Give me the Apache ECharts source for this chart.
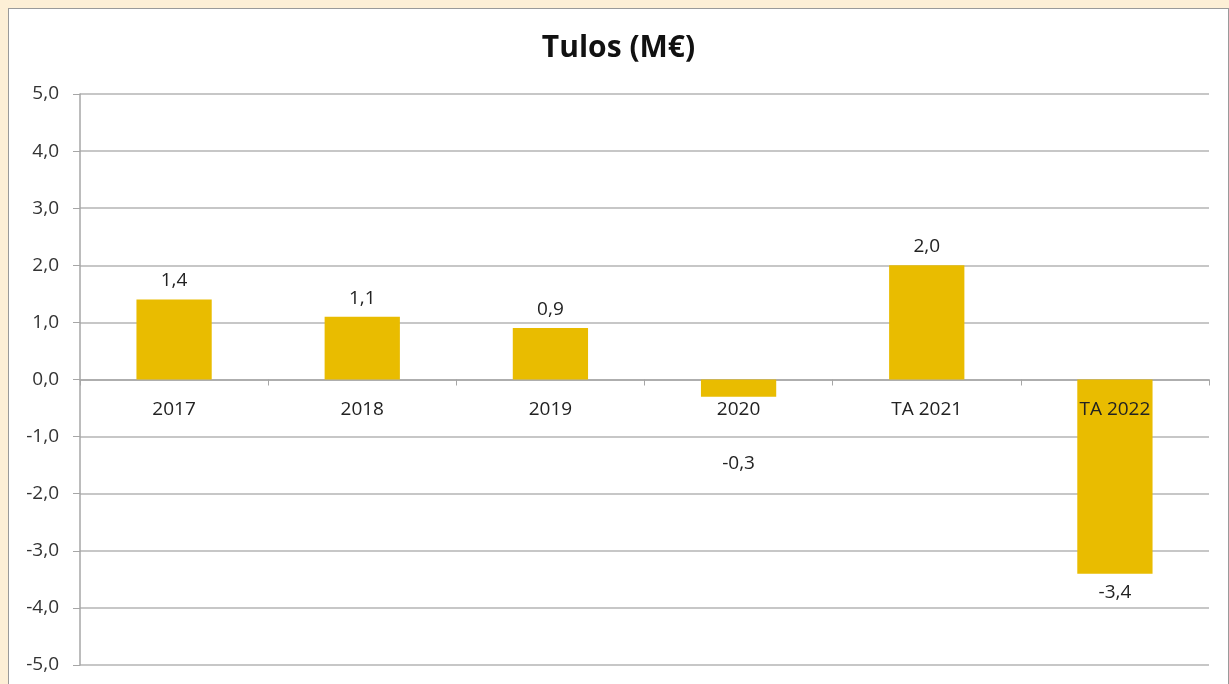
<!DOCTYPE html>
<html>
<head>
<meta charset="utf-8">
<script src="https://cdn.jsdelivr.net/npm/echarts@6/dist/echarts.min.js"></script>
<style>
  html, body { margin: 0; padding: 0; background: #FDEFD6; overflow: hidden; }
  #chart {
    position: absolute; left: 8px; top: 8px; width: 1219px; height: 680px;
    background: #fff; border-left: 1px solid #9a9a9a; border-top: 1px solid #9a9a9a;
    border-right: 1px solid #9a9a9a;
  }
</style>
</head>
<body>
<div id="chart"></div>
<script>
// tuloskehitys
const categories = ['2017', '2018', '2019', '2020', 'TA 2021', 'TA 2022'];
const tulos = [1.4, 1.1, 0.9, -0.3, 2.0, -3.4];
const yTicks = [-5, -4, -3, -2, -1, 0, 1, 2, 3, 4, 5];

const fmt = v => Number(v).toFixed(1).replace('.', ',');
const font = '"Open Sans", sans-serif';

const chart = echarts.init(document.getElementById('chart'));

const barData = tulos.map(function (v, i) {
    const item = { value: v, label: { position: v < 0 ? 'bottom' : 'top' } };
    // 2020 label pushed below the category text, like in the original
    if (i === 3) item.label.distance = 57;
    return item;
});

chart.setOption({
    animation: false,
    title: {
        text: 'Tulos (M€)',
        left: 'center',
        top: 19,
        textStyle: { fontFamily: font, fontSize: 30, fontWeight: 'bold', color: '#111' }
    },
    grid: { left: 71, right: 19, top: 85, bottom: 24, outerBoundsMode: 'none' },
    xAxis: {
        type: 'category',
        data: categories,
        axisLine: { onZero: true, lineStyle: { color: '#a6a6a6', width: 1.5 } },
        axisTick: { show: true, length: 6, lineStyle: { color: '#a6a6a6' } },
        axisLabel: { show: false }
    },
    yAxis: {
        type: 'value',
        min: yTicks[0],
        max: yTicks[yTicks.length - 1],
        interval: 1,
        axisLine: { show: true, lineStyle: { color: '#a6a6a6', width: 1.5 } },
        axisTick: { show: true, length: 7, lineStyle: { color: '#a6a6a6' } },
        axisLabel: { formatter: fmt, margin: 21, fontFamily: font, fontSize: 19, color: '#333' },
        splitLine: { lineStyle: { color: '#b5b5b5', width: 1.5 } }
    },
    series: [{
        type: 'bar',
        data: barData,
        barWidth: '40%',
        itemStyle: { color: '#E9BC00' },
        label: {
            show: true,
            distance: 9,
            formatter: p => fmt(p.value),
            fontFamily: font,
            fontSize: 19,
            color: '#222'
        }
    }, {
        // category names sitting just under the zero line
        type: 'bar',
        data: categories.map(() => 0),
        barWidth: '40%',
        barGap: '-100%',
        silent: true,
        itemStyle: { color: 'transparent' },
        label: {
            show: true,
            position: 'bottom',
            distance: 21,
            formatter: p => p.name,
            fontFamily: font,
            fontSize: 19,
            color: '#222'
        }
    }]
});
</script>
</body>
</html>
